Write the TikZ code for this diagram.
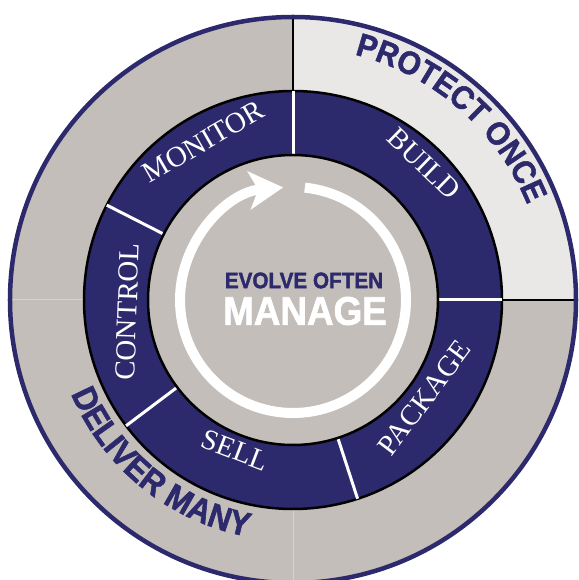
\documentclass[tikz,border=0pt]{standalone}
\usepackage{fontspec}
\setmainfont{Liberation Serif}
\newfontfamily\headfont[FakeBold=1.6,FakeStretch=0.92]{Liberation Sans Bold}
\usetikzlibrary{arrows.meta}
\usetikzlibrary{decorations.text}
\definecolor{navy}{HTML}{2C2A6C}
\definecolor{ringGray}{HTML}{C4BEBA}
\definecolor{paleGray}{HTML}{EAE8E7}
\definecolor{seamGray}{HTML}{D6D2CF}
\newcommand\mottofont{\headfont\fontsize{32.5}{34}\selectfont}
\newcommand\lowmottofont{\headfont\fontsize{34}{35}\selectfont}
\tikzset{stage/.style={text=white,inner sep=0pt,font=\fontsize{29}{30}\selectfont}}
\tikzset{divider/.style={white,line width=3pt}}
\tikzset{seam/.style={black,line width=1.5pt}}
\tikzset{motto/.style={decorate,decoration={text along path,text align=center,text color=navy}}}

\begin{document}
\begin{tikzpicture}[x=1pt,y=1pt]
    \useasboundingbox (-293,-280) rectangle (285,300);
    \fill[ringGray] (0,0) circle (283);
    \fill[paleGray] (0,0) -- (0,283) arc[start angle=90,end angle=0,radius=283] -- cycle;
    \draw[seamGray,line width=1pt] (-283,0) -- (0,0) -- (0,-283);
    \draw[seam] (0,283) -- (0,0) -- (283,0);
    \draw[navy,line width=4.5pt] (0,0) circle (283);
    \fill[navy,draw=black,line width=2.5pt] (0,0) circle (209);
    \foreach \a in {90,0,-72,217,153}
        \draw[divider] (\a:145) -- (\a:209);
    \fill[ringGray,draw=black,line width=2.5pt] (0,0) circle (145);
    \draw[white,line width=10pt,-{Stealth[length=34pt,width=38pt,inset=9pt]}]
        (84:113) arc[start angle=84,end angle=-265,radius=113];
        \node[stage,rotate=30] (monitor) at (119.5:182) {MONITOR};
        \node[stage,rotate=-44] (build) at (46:189) {BUILD};
        \node[stage,rotate=53] (package) at (-36.6:164) {PACKAGE};
        \node[stage,rotate=-21] (sell) at (249:161) {SELL};
        \node[stage,rotate=88] (control) at (184:166) {CONTROL};
    \node[text=navy,font=\headfont\fontsize{22.5}{23}\selectfont] (evolve) at (11,19.5) {EVOLVE OFTEN};
    \node[text=white,font=\headfont\fontsize{40}{40}\selectfont] (manage) at (12,-11) {MANAGE};
    \path[motto,decoration={text={|\mottofont|PROTECT ONCE}}]
        (100:253) arc[start angle=100,end angle=-2,radius=253];
    \path[motto,decoration={text={|\lowmottofont|DELIVER MANY}}]
        (181:241) arc[start angle=181,end angle=281,radius=241];
\end{tikzpicture}
\end{document}
